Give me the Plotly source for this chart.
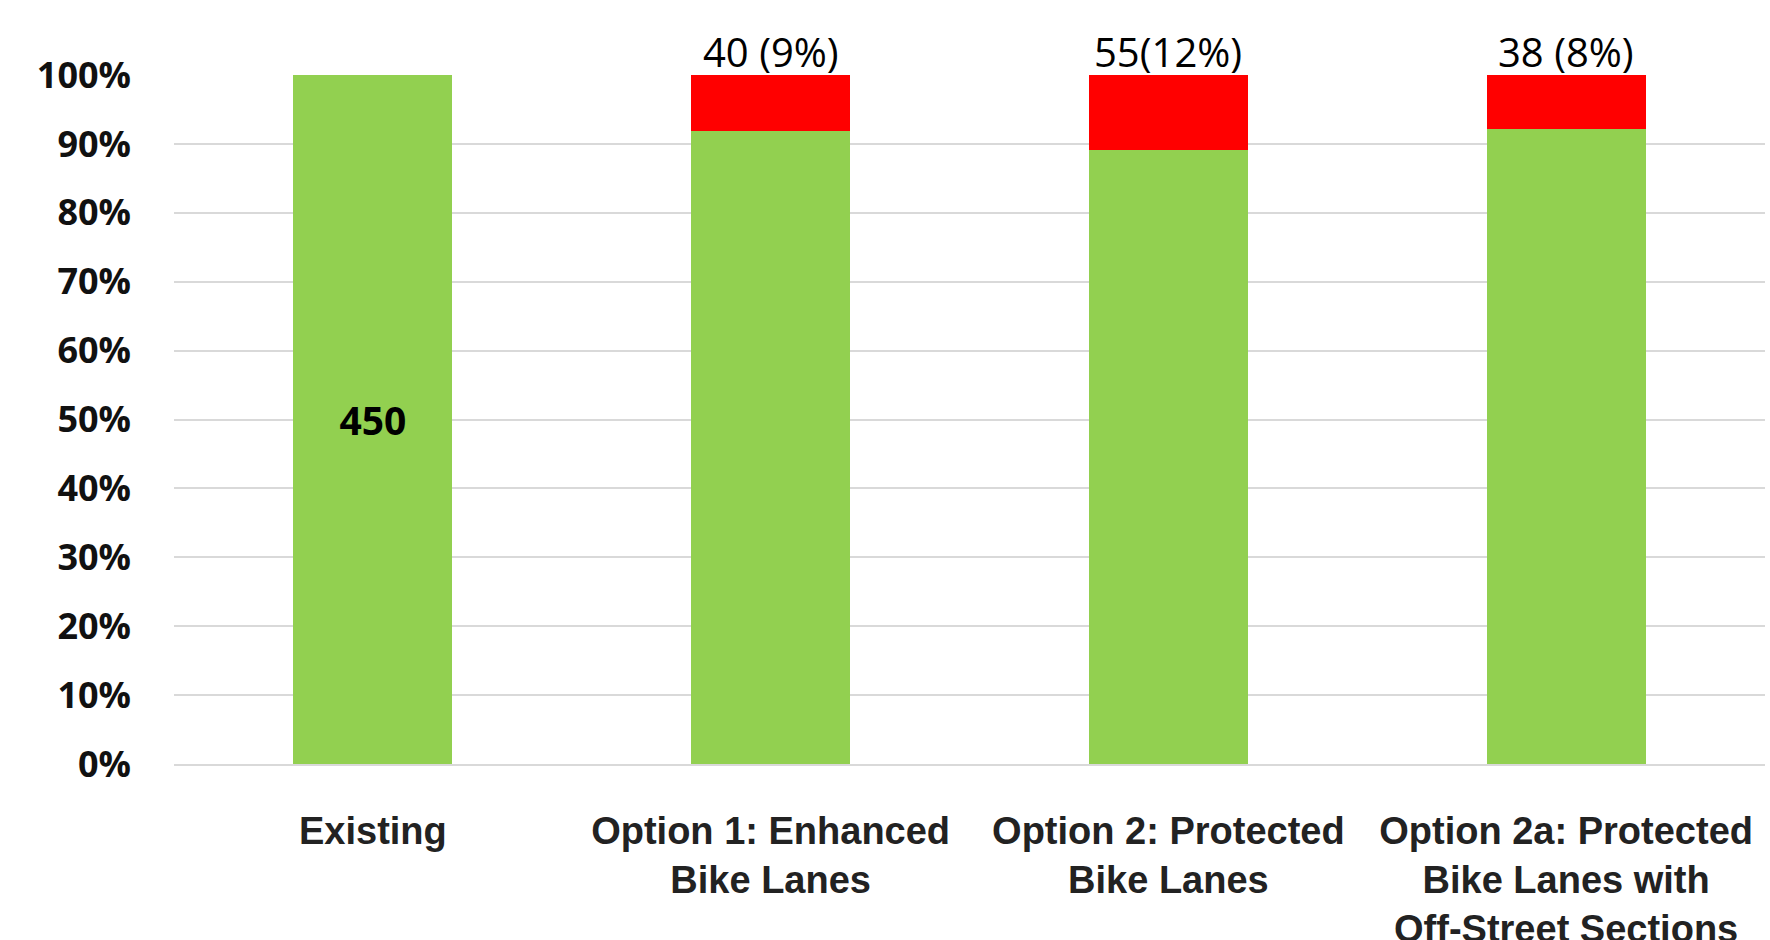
import plotly.graph_objects as go

categories = ["Existing", "Option 1: Enhanced<br>Bike Lanes", "Option 2: Protected<br>Bike Lanes",
              "Option 2a: Protected<br>Bike Lanes with<br>Off-Street Sections"]
base_values = [450, 450, 450, 450]
added_values = [0, 40, 55, 38]
base_labels = ["450", "", "", ""]
added_labels = ["", "40 (9%)", "55(12%)", "38 (8%)"]
y_ticks = [0, 10, 20, 30, 40, 50, 60, 70, 80, 90, 100]
y_tick_labels = [f"{v}%" for v in y_ticks]

fig = go.Figure()
fig.add_trace(go.Bar(
    x=categories, y=base_values, marker_color="#92D050", marker_line_width=0,
    text=base_labels, textposition="inside", insidetextanchor="middle",
    textfont=dict(family="Open Sans", size=39, color="#000000", weight="bold"),
    constraintext="none", hoverinfo="skip",
))
fig.add_trace(go.Bar(
    x=categories, y=added_values, marker_color="#FF0000", marker_line_width=0,
    hoverinfo="skip",
))

for cat, lab in zip(categories, added_labels):
    if lab:
        fig.add_annotation(
            x=cat, y=100, xref="x", yref="y", text=lab, showarrow=False,
            yanchor="bottom", yshift=-6,
            font=dict(family="Open Sans", size=40, color="#000000"),
        )

fig.update_layout(
    width=1770, height=940,
    margin=dict(l=174, r=5, t=75, b=176, autoexpand=False),
    barmode="stack", barnorm="percent", bargap=0.6,
    plot_bgcolor="white", paper_bgcolor="white",
    showlegend=False,
)
fig.update_yaxes(
    range=[0, 100], tickvals=y_ticks, ticktext=y_tick_labels,
    showgrid=True, gridcolor="#D9D9D9", gridwidth=2,
    zeroline=False, showline=False, ticks="",
    tickfont=dict(family="Open Sans", size=36, color="#111111", weight="bold"),
    ticklabelstandoff=42, automargin=False,
)
fig.update_xaxes(
    showline=True, linecolor="#D9D9D9", linewidth=2, ticks="",
    tickfont=dict(family="Liberation Sans", size=38, color="#222222", weight="bold"),
    ticklabelstandoff=32, automargin=False, tickangle=0,
)

fig.write_html("out.html")
